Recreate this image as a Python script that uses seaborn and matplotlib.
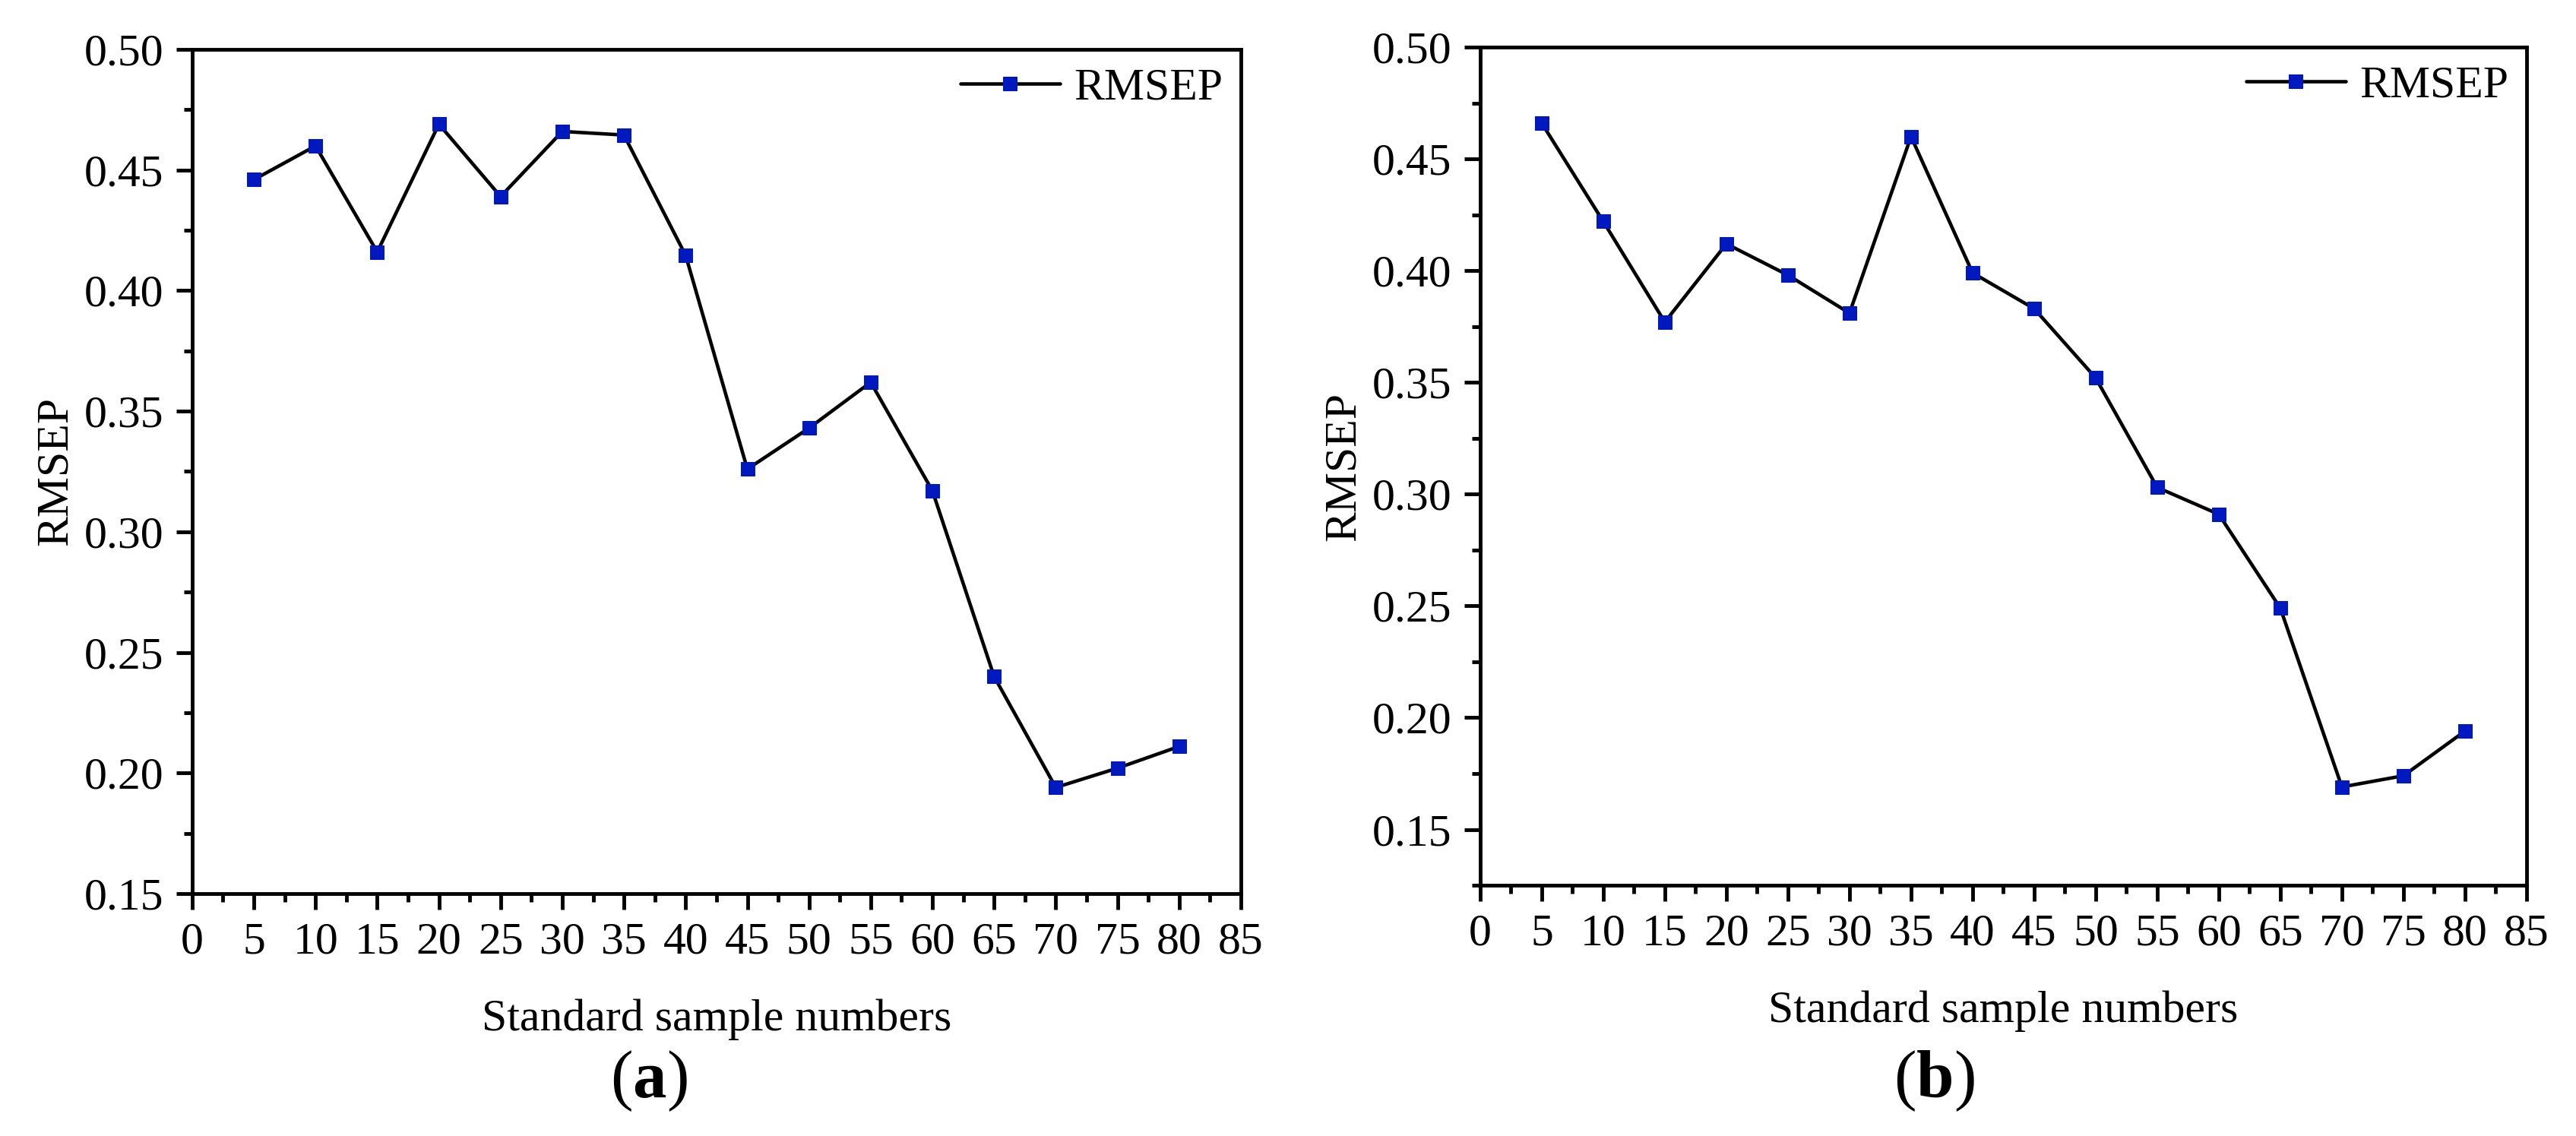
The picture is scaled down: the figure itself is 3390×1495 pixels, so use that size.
import numpy as np
import pandas as pd
import matplotlib.pyplot as plt
import seaborn as sns
from matplotlib.ticker import MultipleLocator

# values
sample_numbers = [5, 10, 15, 20, 25, 30, 35, 40, 45, 50, 55, 60, 65, 70, 75, 80]
rmsep_a = [0.446, 0.460, 0.416, 0.469, 0.439, 0.466, 0.4645, 0.4146,
           0.326, 0.343, 0.362, 0.317, 0.240, 0.194, 0.202, 0.211]
rmsep_b = [0.466, 0.422, 0.377, 0.412, 0.398, 0.381, 0.460, 0.399,
           0.383, 0.352, 0.303, 0.291, 0.249, 0.169, 0.174, 0.194]
panel_labels = ["a", "b"]
x_label = "Standard sample numbers"
y_label = "RMSEP"

sns.set_style("ticks")
plt.rcParams["font.family"] = ["Liberation Serif", "DejaVu Serif"]
plt.rcParams["mathtext.fontset"] = "custom"
plt.rcParams["mathtext.rm"] = "Liberation Serif"
plt.rcParams["mathtext.bf"] = "Liberation Serif:bold"
for key in ["text.color", "axes.labelcolor", "xtick.color", "ytick.color",
            "axes.edgecolor"]:
    plt.rcParams[key] = "black"

blue = "#0019BF"
fs = 43

fig = plt.figure(figsize=(33.9, 14.95), dpi=100)
ax_a = fig.add_axes([0.0746, 0.2134, 0.4071, 0.7431])
ax_b = fig.add_axes([0.5746, 0.2207, 0.4062, 0.7378])

panels = [
    (ax_a, rmsep_a, (0.15, 0.50), 0.2519),
    (ax_b, rmsep_b, (0.125, 0.50), 0.7507),
]

for (ax, vals, ylim, cx), lab in zip(panels, panel_labels):
    df = pd.DataFrame({"n": sample_numbers, "rmsep": vals})
    sns.lineplot(data=df, x="n", y="rmsep", ax=ax, color="black", lw=3.3,
                 marker="s", markersize=13, markerfacecolor=blue,
                 markeredgecolor=blue, label=y_label)

    ax.set_xlim(0, 85)
    ax.set_ylim(*ylim)
    ax.xaxis.set_major_locator(MultipleLocator(5))
    ax.xaxis.set_minor_locator(MultipleLocator(2.5))
    ax.set_yticks(np.arange(0.15, 0.501, 0.05))
    ax.yaxis.set_minor_locator(MultipleLocator(0.025))
    ax.yaxis.set_major_formatter(plt.FormatStrFormatter("%.2f"))

    for sp in ax.spines.values():
        sp.set_linewidth(3.5)
        sp.set_color("black")
    ax.tick_params(which="major", direction="out", length=15, width=3.5,
                   labelsize=fs, pad=12, top=False, right=False)
    ax.tick_params(which="minor", direction="out", length=8, width=3.5,
                   top=False, right=False)

    ax.set_xlabel(x_label, fontsize=fs, labelpad=34)
    ax.set_ylabel(y_label, fontsize=fs, labelpad=7)

    ax.legend(loc="upper right", frameon=False, fontsize=fs, handlelength=2.2,
              handletextpad=0.3, borderaxespad=0.0)

    fig.text(cx, 1 - 1423 / 1495, r"($\mathbf{%s}$)" % lab, ha="center",
             va="center", fontsize=64)

fig.savefig("out.png", dpi=100)
